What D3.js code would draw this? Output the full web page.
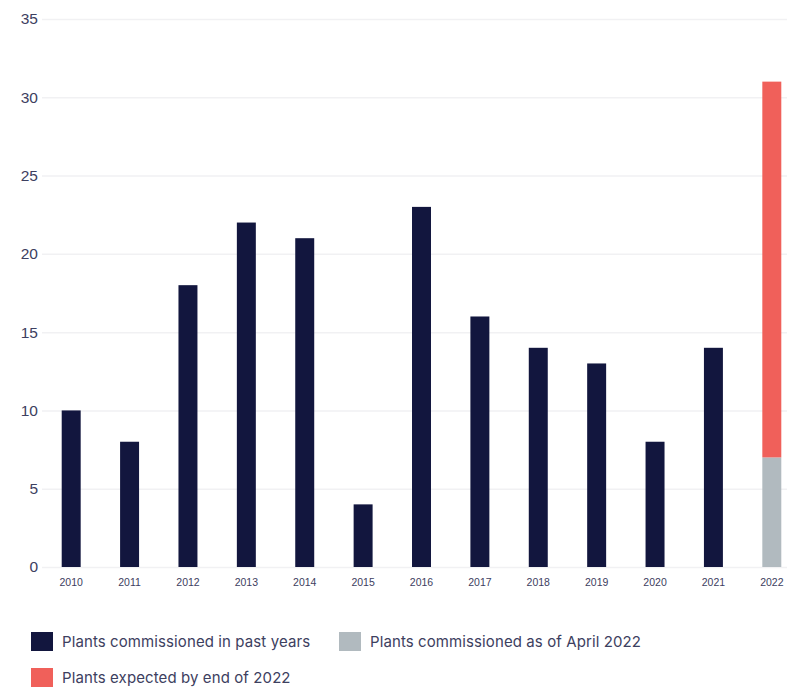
<!DOCTYPE html>
<html>
<head>
<meta charset="utf-8">
<script src="https://cdn.jsdelivr.net/npm/d3@7"></script>
<style>
  body { margin: 0; background: #fff; font-family: Inter, "Open Sans", sans-serif; }
  #chart { width: 787px; height: 688px; }
  .yaxis text { font-size: 15.5px; fill: #3d4060; }
  .xaxis text { font-size: 10.5px; fill: #3d4060; }
  .legend text { font-size: 15px; fill: #3d4060; letter-spacing: 0.1px; }
</style>
</head>
<body>
<div id="chart"></div>
<script>
//Datos
const years = ['2010','2011','2012','2013','2014','2015','2016','2017','2018','2019','2020','2021','2022'];
const pastYears = [10, 8, 18, 22, 21, 4, 23, 16, 14, 13, 8, 14, 0];
const asOfApril = [0, 0, 0, 0, 0, 0, 0, 0, 0, 0, 0, 0, 7];
const expectedEnd = [0, 0, 0, 0, 0, 0, 0, 0, 0, 0, 0, 0, 24];
const yTicks = [0, 5, 10, 15, 20, 25, 30, 35];
const seriesKeys = ['past', 'april', 'expected'];
const seriesLabels = ['Plants commissioned in past years', 'Plants commissioned as of April 2022', 'Plants expected by end of 2022'];

//Colores
const COLOR_NAVY = '#12163e',
COLOR_GREY = '#b1babf',
COLOR_RED = '#f0605a';

let data = years.map(function(y, i) {
    return { year: y, past: pastYears[i], april: asOfApril[i], expected: expectedEnd[i] };
});

let width = 787, height = 688;

let svg = d3.select('#chart')
    .append('svg')
    .attr('width', width)
    .attr('height', height);

let x = d3.scaleBand()
    .domain(years)
    .range([42, 801])
    .paddingInner(0.675)
    .paddingOuter(0.3375);

let y = d3.scaleLinear()
    .domain([0, 35])
    .range([567, 19]);

let color = d3.scaleOrdinal()
    .domain(seriesKeys)
    .range([COLOR_NAVY, COLOR_GREY, COLOR_RED]);

//Eje Y con líneas de fondo
svg.append('g')
    .attr('class', 'yaxis')
    .attr('transform', 'translate(42,0)')
    .call(d3.axisLeft(y).tickValues(yTicks).tickSize(0).tickPadding(4))
    .call(function(g) {
        g.select('.domain').remove();
        g.selectAll('.tick line')
            .attr('x2', width - 42)
            .attr('stroke', '#f1f1f3')
            .attr('stroke-width', 1.5);
    });

//Eje X
svg.append('g')
    .attr('class', 'xaxis')
    .attr('transform', 'translate(0,' + 567 + ')')
    .call(d3.axisBottom(x).tickSize(0).tickPadding(12))
    .call(function(g) { g.select('.domain').remove(); });

//Barras apiladas
let stacked = d3.stack().keys(seriesKeys)(data);

svg.append('g')
    .selectAll('g')
    .data(stacked)
    .enter()
    .append('g')
    .attr('fill', function(d) { return color(d.key); })
    .selectAll('rect')
    .data(function(d) { return d.filter(function(p) { return p[1] > p[0]; }); })
    .enter()
    .append('rect')
    .attr('x', function(d) { return x(d.data.year); })
    .attr('y', function(d) { return y(d[1]); })
    .attr('width', x.bandwidth())
    .attr('height', function(d) { return y(d[0]) - y(d[1]); });

//Leyenda
let legendPos = [[31, 632], [339, 632], [31, 668]];
let legend = svg.append('g').attr('class', 'legend')
    .selectAll('g')
    .data(seriesKeys)
    .enter()
    .append('g')
    .attr('transform', function(d, i) { return 'translate(' + legendPos[i][0] + ',' + legendPos[i][1] + ')'; });

legend.append('rect')
    .attr('width', 22)
    .attr('height', 19)
    .attr('fill', function(d) { return color(d); });

legend.append('text')
    .attr('x', 31)
    .attr('y', 15)
    .text(function(d, i) { return seriesLabels[i]; });
</script>
</body>
</html>
